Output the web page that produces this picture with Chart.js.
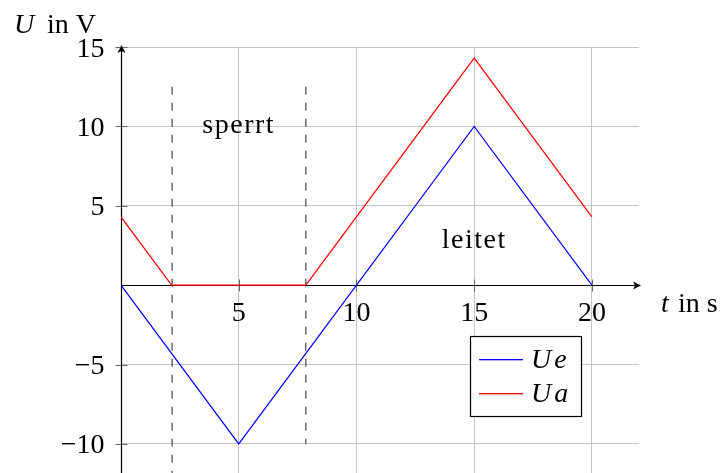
<!DOCTYPE html>
<html>
<head>
<meta charset="utf-8">
<script src="https://cdn.jsdelivr.net/npm/chart.js@4.4.0/dist/chart.umd.min.js"></script>
<style>
html, body { margin: 0; padding: 0; background: #fff; }
canvas { display: block; }
</style>
</head>
<body>
<canvas id="chart" width="727" height="473"></canvas>
<script>
// Eingangsspannung Ue (Dreieck)
const ueTime = [0, 5, 15, 20];
const ueVolt = [0, -10, 10, 0];
// Ausgangsspannung Ua
const uaTime = [0, 2.15, 7.85, 15, 20];
const uaVolt = [4.3, 0, 0, 14.3, 4.3];
// gestrichelte Grenzen zwischen sperrt / leitet
const dash1Time = [2.17, 2.17];
const dash1Volt = [12.5, -11.83];
const dash2Time = [7.85, 7.85];
const dash2Volt = [12.5, -10];

const xTicks = [5, 10, 15, 20];
const yTicks = [-10, -5, 5, 10, 15];
const seriesLabels = ['Ue', 'Ua'];
const areaLabels = ['sperrt', 'leitet'];
const areaLabelAt = [[5, 9.6], [15, 2.35]];

const FONT = '"Liberation Serif", "Times New Roman", serif';
const COLORS = ['#0000ff', '#ff0000'];

function toPoints(xs, ys) {
    return xs.map((t, i) => ({ x: t, y: ys[i] }));
}

function fmt(v) {
    return v < 0 ? '\u2212' + Math.abs(v) : String(v);
}

function arrow(ctx, x, y, dir) {
    // kleine Pfeilspitze (dir: 'up' oder 'right')
    ctx.save();
    ctx.translate(x, y);
    if (dir === 'right') ctx.rotate(Math.PI / 2);
    ctx.beginPath();
    ctx.moveTo(0, 0);
    ctx.lineTo(-4, 8);
    ctx.lineTo(0, 6);
    ctx.lineTo(4, 8);
    ctx.closePath();
    ctx.fillStyle = '#000';
    ctx.fill();
    ctx.restore();
}

const decor = {
    id: 'decor',
    beforeDatasetsDraw(chart) {
        const { ctx, chartArea: a, scales: { x, y } } = chart;
        const x0 = Math.round(x.getPixelForValue(0)) + 0.5;
        const y0 = Math.round(y.getPixelForValue(0)) + 0.5;
        ctx.save();
        ctx.lineWidth = 1;
        // Tick-Striche
        ctx.strokeStyle = '#666';
        ctx.beginPath();
        yTicks.forEach(v => {
            const py = Math.round(y.getPixelForValue(v)) + 0.5;
            ctx.moveTo(x0 - 6, py);
            ctx.lineTo(x0 + 6, py);
        });
        xTicks.forEach(v => {
            const px = Math.round(x.getPixelForValue(v)) + 0.5;
            ctx.moveTo(px, y0 - 6);
            ctx.lineTo(px, y0 + 6);
        });
        ctx.stroke();
        // Achsen
        ctx.strokeStyle = '#000';
        ctx.lineWidth = 1.2;
        ctx.beginPath();
        ctx.moveTo(x0, a.bottom);
        ctx.lineTo(x0, a.top);
        ctx.moveTo(x0, y0);
        ctx.lineTo(a.right, y0);
        ctx.stroke();
        ctx.restore();
    },
    afterDatasetsDraw(chart) {
        const { ctx, chartArea: a, scales: { x, y } } = chart;
        const x0 = Math.round(x.getPixelForValue(0)) + 0.5;
        const y0 = Math.round(y.getPixelForValue(0)) + 0.5;
        ctx.save();
        arrow(ctx, x0, a.top - 2, 'up');
        arrow(ctx, a.right + 2, y0, 'right');

        ctx.fillStyle = '#000';
        ctx.font = '28px ' + FONT;
        ctx.textBaseline = 'alphabetic';

        // Beschriftung y-Achse
        ctx.textAlign = 'right';
        yTicks.forEach(v => {
            ctx.fillText(fmt(v), x0 - 17, y.getPixelForValue(v) + 9.5);
        });
        // Beschriftung x-Achse
        ctx.textAlign = 'center';
        xTicks.forEach(v => {
            ctx.fillText(fmt(v), x.getPixelForValue(v), y0 + 35);
        });

        // Bereiche
        ctx.letterSpacing = '1.5px';
        areaLabels.forEach((txt, i) => {
            const [t, u] = areaLabelAt[i];
            ctx.fillText(txt, x.getPixelForValue(t), y.getPixelForValue(u));
        });
        ctx.letterSpacing = '0px';

        // Achsentitel
        ctx.textAlign = 'left';
        ctx.font = 'italic 28px ' + FONT;
        ctx.fillText('U', 14, 33);
        ctx.fillText('t', 661, 312);
        ctx.font = '28px ' + FONT;
        ctx.fillText('in V', 47, 33);
        ctx.fillText('in s', 678, 312);

        // Legende
        const bx = 470, by = 336, bw = 112, bh = 81;
        ctx.fillStyle = '#fff';
        ctx.fillRect(bx, by, bw, bh);
        ctx.strokeStyle = '#000';
        ctx.lineWidth = 1.2;
        ctx.strokeRect(bx + 0.5, by + 0.5, bw - 1, bh - 1);
        seriesLabels.forEach((lab, i) => {
            const ly = by + 23 + i * 34;
            ctx.fillStyle = COLORS[i];
            ctx.fillRect(bx + 9, ly, 44, 1.3);
            ctx.fillStyle = '#000';
            ctx.font = 'italic 28px ' + FONT;
            ctx.letterSpacing = '3px';
            ctx.fillText(lab, bx + 61, ly + 9);
            ctx.letterSpacing = '0px';
        });
        ctx.restore();
    }
};

const lineBase = { showLine: true, fill: false, tension: 0, pointRadius: 0, borderWidth: 1.2 };

new Chart(document.getElementById('chart'), {
    type: 'scatter',
    data: {
        datasets: [
            { ...lineBase, label: seriesLabels[0], data: toPoints(ueTime, ueVolt), borderColor: COLORS[0] },
            { ...lineBase, label: seriesLabels[1], data: toPoints(uaTime, uaVolt), borderColor: COLORS[1] },
            { ...lineBase, label: 'g1', data: toPoints(dash1Time, dash1Volt), borderColor: '#222', borderWidth: 1, borderDash: [8, 8] },
            { ...lineBase, label: 'g2', data: toPoints(dash2Time, dash2Volt), borderColor: '#222', borderWidth: 1, borderDash: [8, 8] }
        ]
    },
    options: {
        responsive: false,
        animation: false,
        layout: { padding: { left: 121, right: 88, top: 47, bottom: 0 } },
        plugins: { legend: { display: false }, tooltip: { enabled: false } },
        scales: {
            x: {
                type: 'linear', min: 0, max: 22,
                afterBuildTicks: s => { s.ticks = xTicks.map(v => ({ value: v })); },
                ticks: { display: false },
                grid: { color: '#c4c4c4', lineWidth: 1, drawTicks: false },
                border: { display: false }
            },
            y: {
                type: 'linear', min: -11.83, max: 15,
                afterBuildTicks: s => { s.ticks = yTicks.map(v => ({ value: v })); },
                ticks: { display: false },
                grid: { color: '#c4c4c4', lineWidth: 1, drawTicks: false },
                border: { display: false }
            }
        }
    },
    plugins: [decor]
});
</script>
</body>
</html>
